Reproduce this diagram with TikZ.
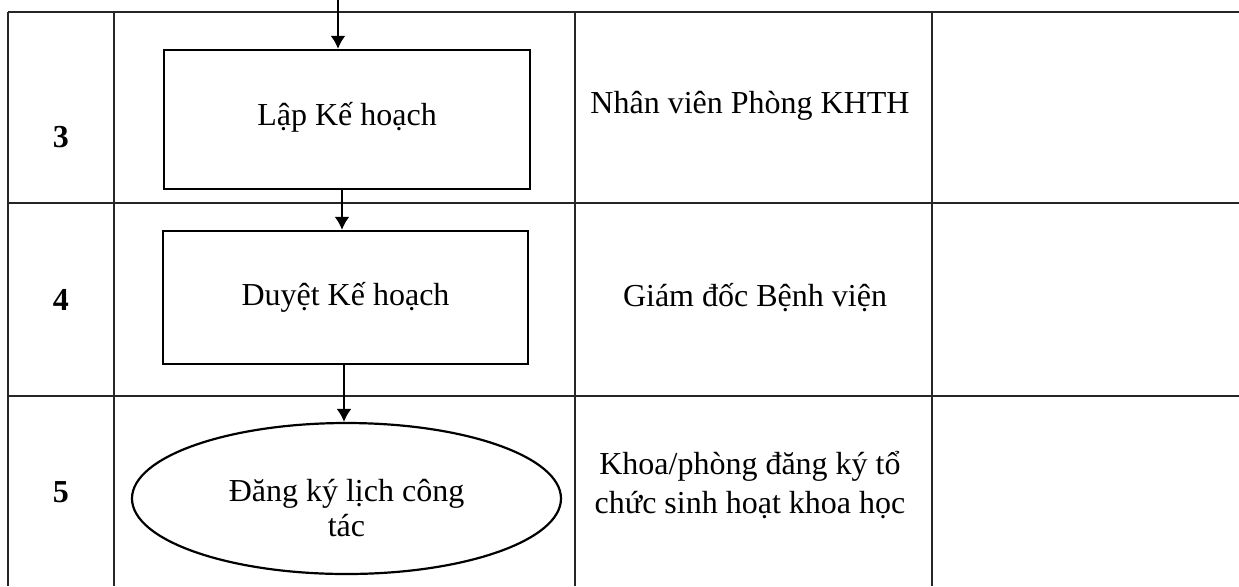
\documentclass[tikz,border=0pt]{standalone}
\usepackage{fontspec}
\setmainfont{Liberation Serif}
\usetikzlibrary{shapes.geometric,arrows.meta}
\begin{document}
\begin{tikzpicture}[x=0.5pt,y=-0.5pt,
  grid/.style={line width=0.8pt,draw=black!85},
  stepbox/.style={draw,line width=1.2pt,inner sep=0pt,font=\fontsize{16}{19}\selectfont},
  endoval/.style={draw,ellipse,line width=1.1pt,inner sep=0pt,
    minimum width=214.5pt,minimum height=75.5pt},
  ovaltext/.style={align=center,inner sep=0pt,font=\fontsize{16}{17.5}\selectfont},
  arr/.style={line width=1pt,-{Latex[length=6.5pt,width=7.5pt]}},
  num/.style={font=\fontsize{16}{19}\selectfont\bfseries},
  who/.style={font=\fontsize{16}{19.5}\selectfont,align=center}]
\useasboundingbox (0,0) rectangle (1239,586);
\fill[white] (0,0) rectangle (1239,586);
% table grid
\draw[grid] (8,12) -- (1239,12);
\draw[grid] (8,203) -- (1239,203);
\draw[grid] (8,396) -- (1239,396);
\draw[grid] (8,12) -- (8,586);
\draw[grid] (114,12) -- (114,586);
\draw[grid] (575,12) -- (575,586);
\draw[grid] (932,12) -- (932,586);
% step numbers
\node[num] (n3) at (61,137) {3};
\node[num] (n4) at (61,300) {4};
\node[num] (n5) at (61,492) {5};
% flow
\node[stepbox,minimum width=183pt,minimum height=69.5pt] (b1) at (347,119.5) {\raisebox{6pt}{Lập Kế hoạch}};
\node[stepbox,minimum width=182.5pt,minimum height=66.5pt] (b2) at (345.5,297.5) {Duyệt Kế hoạch};
\node[endoval] (e5) at (346.5,498.5) {};
\node[ovaltext] (t5) at ([yshift=-5pt]e5.center) {Đăng ký lịch công\\tác};
\coordinate (in0) at (338,0);
\draw[arr] (in0) -- (in0 |- b1.north);
\draw[arr] ([xshift=-2.5pt]b1.south) -- ([xshift=-2.5pt]b1.south |- b2.north);
\draw[arr] ([xshift=-0.75pt]b2.south) -- ([xshift=-0.75pt]b2.south |- e5.north);
% responsible
\node[who] (w3) at (750,106) {Nhân viên Phòng KHTH};
\node[who] (w4) at (755,298) {Giám đốc Bệnh viện};
\node[who] (w5) at (750,485) {Khoa/phòng đăng ký tổ\\chức sinh hoạt khoa học};
\end{tikzpicture}
\end{document}
